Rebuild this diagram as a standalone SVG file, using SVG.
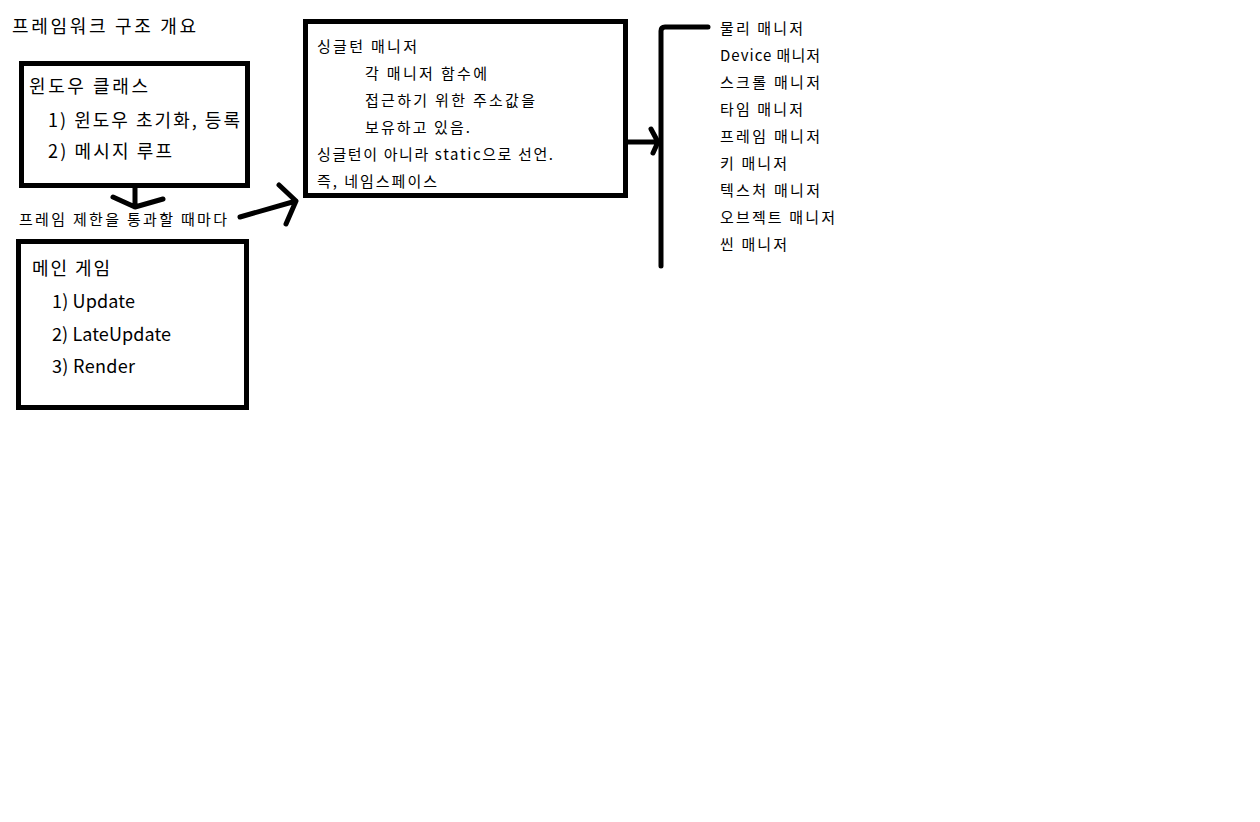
<svg xmlns="http://www.w3.org/2000/svg" width="1260" height="822" viewBox="0 0 1260 822">
<style>
text{font-family:"Noto Sans CJK KR","Malgun Gothic",sans-serif;fill:#000;}
.t18{font-size:18px;}
.t15{font-size:15px;}
.box{fill:none;stroke:#000;stroke-width:5;}
.ln{fill:none;stroke:#000;stroke-width:5;stroke-linecap:round;stroke-linejoin:round;}
</style>
<rect width="1260" height="822" fill="#fff"/>
<text class="t18" x="12" y="33" textLength="184" lengthAdjust="spacing">프레임워크 구조 개요</text>
<g id="window-class">
<rect class="box" x="21.5" y="63.5" width="226" height="122"/>
<text class="t18" x="29" y="93" textLength="119" lengthAdjust="spacing">윈도우 클래스</text>
<text class="t18" x="48" y="127" textLength="192" lengthAdjust="spacing">1) 윈도우 초기화, 등록</text>
<text class="t18" x="48" y="158" textLength="124" lengthAdjust="spacing">2) 메시지 루프</text>
</g>
<g id="main-game">
<rect class="box" x="18.5" y="241.5" width="228" height="166"/>
<text class="t18" x="32" y="275" textLength="78" lengthAdjust="spacing">메인 게임</text>
<text class="t18" x="52" y="308" textLength="83" lengthAdjust="spacing">1) Update</text>
<text class="t18" x="52" y="341" textLength="119" lengthAdjust="spacing">2) LateUpdate</text>
<text class="t18" x="52" y="373" textLength="83" lengthAdjust="spacing">3) Render</text>
</g>
<g id="singleton">
<rect class="box" x="305.5" y="21.5" width="320" height="174"/>
<text class="t15" x="317" y="52" textLength="100" lengthAdjust="spacing">싱글턴 매니저</text>
<text class="t15" x="365" y="79" textLength="122" lengthAdjust="spacing">각 매니저 함수에</text>
<text class="t15" x="365" y="106" textLength="170" lengthAdjust="spacing">접근하기 위한 주소값을</text>
<text class="t15" x="365" y="133" textLength="105" lengthAdjust="spacing">보유하고 있음.</text>
<text class="t15" x="317" y="160" textLength="236" lengthAdjust="spacing">싱글턴이 아니라 static으로 선언.</text>
<text class="t15" x="317" y="187" textLength="120" lengthAdjust="spacing">즉, 네임스페이스</text>
</g>
<g id="managers">
<text class="t15" x="720" y="34" textLength="83" lengthAdjust="spacing">물리 매니저</text>
<text class="t15" x="720" y="61" textLength="100" lengthAdjust="spacing">Device 매니저</text>
<text class="t15" x="720" y="88" textLength="100" lengthAdjust="spacing">스크롤 매니저</text>
<text class="t15" x="720" y="115" textLength="83" lengthAdjust="spacing">타임 매니저</text>
<text class="t15" x="720" y="142" textLength="100" lengthAdjust="spacing">프레임 매니저</text>
<text class="t15" x="720" y="169" textLength="67" lengthAdjust="spacing">키 매니저</text>
<text class="t15" x="720" y="196" textLength="100" lengthAdjust="spacing">텍스처 매니저</text>
<text class="t15" x="720" y="223" textLength="115" lengthAdjust="spacing">오브젝트 매니저</text>
<text class="t15" x="720" y="250" textLength="67" lengthAdjust="spacing">씬 매니저</text>
</g>
<g id="connectors">
<path class="ln" d="M135 188 V207 M113 197 L135 207 L163 199"/>
<text class="t15" x="19" y="225" textLength="208" lengthAdjust="spacing">프레임 제한을 통과할 때마다</text>
<path class="ln" d="M240 217 L296 201 M279 185 L296 201 L286 224"/>
<path class="ln" d="M626 142 H658 M651 129 L658 142 L653 153"/>
<path class="ln" d="M661 266 V31 Q661 27 665 27 H708"/>
</g>
</svg>
